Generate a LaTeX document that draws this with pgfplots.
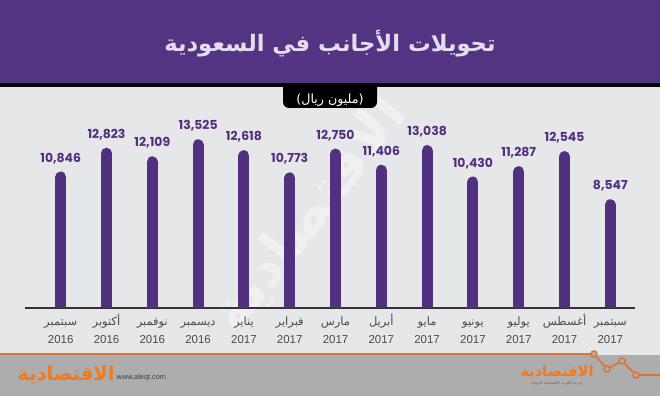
\documentclass[border=0pt]{standalone}
\usepackage{fontspec}
\usepackage{pgfplots}
\pgfplotsset{compat=1.18}
\TeXXeTstate=1
\setmainfont{Liberation Sans}
\newfontfamily\arabicfont[Script=Arabic]{DejaVu Sans}
\newfontfamily\numfont{Poppins}
\definecolor{bandpurple}{HTML}{533483}
\definecolor{barpurple}{HTML}{523080}
\definecolor{bggray}{HTML}{E6E7E9}
\definecolor{footgray}{HTML}{ADADAD}
\definecolor{logoorange}{HTML}{F07A22}
\definecolor{lineorange}{HTML}{D9733A}
\definecolor{titlelav}{HTML}{E4DDEE}
\definecolor{labgray}{HTML}{4A4A4A}
\pgfplotstableread{
x y
1 10846
2 12823
3 12109
4 13525
5 12618
6 10773
7 12750
8 11406
9 13038
10 10430
11 11287
12 12545
13 8547
}\remit
\newcommand{\AR}[1]{{\arabicfont\beginR #1\endR}}
\newcommand{\ML}[2]{\rule{0pt}{9pt}\AR{#1}\\#2}
\begin{document}
\begin{tikzpicture}
\useasboundingbox (0pt,0pt) rectangle (495pt,297pt);
\begin{scope}[x=0.75pt,y=0.75pt]
\fill[bggray] (0,0) rectangle (660,396);
% watermark
\node[rotate=52,text=white,opacity=0.4,font=\arabicfont\bfseries\fontsize{42}{42}\selectfont] at (310,181) {\beginR الاقتصادية\endR};
% subtitle box
\fill[black,rounded corners=4.5pt] (283,288) rectangle (377,316);
\fill[bandpurple] (0,313) rectangle (660,396);
\fill[black] (0,309) rectangle (660,313);
\node[text=titlelav,font=\arabicfont\bfseries\fontsize{17}{18}\selectfont] at (330,352) {\beginR تحويلات الأجانب في السعودية\endR};
\node[text=white,font=\arabicfont\fontsize{9.5}{10}\selectfont] at (330,296) {\beginR (مليون ريال)\endR};
% footer
\fill[footgray] (0,0) rectangle (660,41);
\draw[lineorange,line width=1.2pt] (0,42) -- (594,42) -- (607,27) -- (622,35) -- (636,21) -- (660,21);
\foreach \p in {(594,42),(607,27),(622,35),(636,21)}
  \filldraw[draw=lineorange,fill=footgray,line width=1.1pt] \p circle (3);
\node[text=logoorange,font=\arabicfont\bfseries\fontsize{14.5}{15}\selectfont,anchor=west] at (13,21) {\beginR الاقتصادية\endR};
\node[text=black!75,font=\fontsize{5.5}{6}\selectfont,anchor=west] at (112,18) {www.aleqt.com};
\node[text=logoorange,font=\arabicfont\bfseries\fontsize{11}{11}\selectfont] at (557,24) {\beginR الاقتصادية\endR};
\node[text=logoorange!70!black,font=\arabicfont\fontsize{3}{3}\selectfont] at (557,13) {\beginR جريدة العرب الاقتصادية الدولية\endR};
\end{scope}
% chart
\begin{axis}[
  at={(18.75pt,66.225pt)}, anchor=south west,
  scale only axis, width=457.5pt, height=144.6pt,
  xmin=0.2205, xmax=13.539, ymin=0, ymax=16000,
  axis x line*=bottom, axis y line=none,
  axis line style={-, line width=1.3pt, color=black!80},
  xtick=data, ytick=\empty,
  major tick length=0pt,
  xticklabels={
    {\ML{سبتمبر}{2016}},{\ML{أكتوبر}{2016}},{\ML{نوفمبر}{2016}},{\ML{ديسمبر}{2016}},
    {\ML{يناير}{2017}},{\ML{فبراير}{2017}},{\ML{مارس}{2017}},{\ML{أبريل}{2017}},
    {\ML{مايو}{2017}},{\ML{يونيو}{2017}},{\ML{يوليو}{2017}},{\ML{أغسطس}{2017}},
    {\ML{سبتمبر}{2017}}},
  xticklabel style={align=center, anchor=north, text=labgray, font=\fontsize{8.6}{13.5}\selectfont, yshift=-1pt, inner xsep=0pt},
  /pgf/number format/.cd, 1000 sep={,}, assume math mode=true,
]
\addplot[ycomb, color=barpurple, line width=8.25pt, line cap=round,
  nodes near coords,
  every node near coord/.append style={anchor=base, inner sep=0pt, yshift=11.25pt,
    text=barpurple, font=\numfont\bfseries\fontsize{9.3}{10}\selectfont}]
  table[x=x,y=y] {\remit};
\end{axis}
\end{tikzpicture}
\end{document}
